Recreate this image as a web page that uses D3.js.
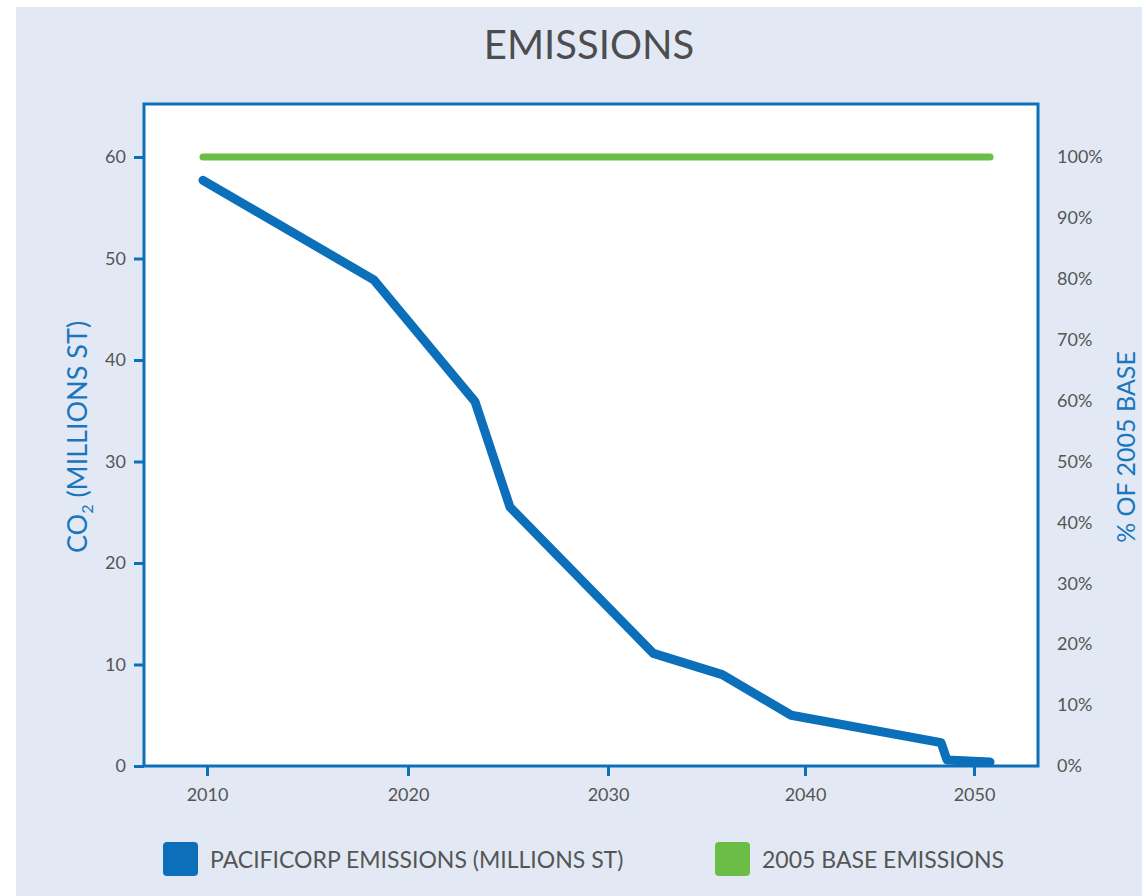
<!DOCTYPE html>
<html><head><meta charset="utf-8">
<script src="https://cdn.jsdelivr.net/npm/d3@7"></script>
<style>
html,body{margin:0;padding:0;background:#fff;}
svg{display:block;}
text{font-family:Lato,"Open Sans",sans-serif;}
</style></head>
<body><svg id="c" width="1142" height="896"></svg>
<script>
// ---- data ----
const title = "EMISSIONS";
const xTickYears = [2010, 2020, 2030, 2040, 2050];
const yTicks = [0, 10, 20, 30, 40, 50, 60];
const pctTicks = [0, 10, 20, 30, 40, 50, 60, 70, 80, 90, 100];
const emissionYears  = [2009.8, 2018.3, 2023.35, 2025.1, 2032.3, 2035.8, 2039.3, 2048.05, 2048.4, 2050.95];
const emissionValues = [57.7, 47.9, 35.9, 25.5, 11.1, 9.0, 5.0, 2.3, 0.6, 0.4];
const baseYears  = [2009.8, 2050.95];
const baseValues = [60, 60];
const baseValue = 60;
const seriesNames = ["PACIFICORP EMISSIONS (MILLIONS ST)", "2005 BASE EMISSIONS"];
const leftTitle = ["CO", "2", " (MILLIONS ST)"];
const rightTitle = "% OF 2005 BASE";

// ---- layout ----
const W = 1142, H = 896;
const blue = "#0c6fba", green = "#6bbd45", grey = "#555555", titleBlue = "#1a76bd";
const frame = {left: 144, right: 1038, top: 104, bottom: 766};
const svg = d3.select("#c");

svg.append("rect").attr("x", 16).attr("y", 7).attr("width", W - 16).attr("height", H - 7).attr("fill", "#e3e9f4");

// x scale: the printed tick spacing is uneven, so map ticks piecewise
const x = d3.scaleLinear().domain(xTickYears).range([207, 408, 608, 805, 974]);
const y = d3.scaleLinear().domain([0, 60]).range([frame.bottom, 157]);
const yPct = d3.scaleLinear().domain([0, 100]).range([y(0), y(baseValue)]);

svg.append("rect").attr("x", frame.left).attr("y", frame.top)
  .attr("width", frame.right - frame.left).attr("height", frame.bottom - frame.top)
  .attr("fill", "#fff");

// title
svg.append("text").attr("x", 589).attr("y", 59).attr("text-anchor", "middle")
  .attr("font-size", 40).attr("fill", "#4d4d4f").text(title);

// left axis
const gl = svg.append("g").attr("transform", `translate(${frame.left},0)`)
  .call(d3.axisLeft(y).tickValues(yTicks).tickSize(10).tickPadding(8).tickFormat(d3.format("d")));
gl.select(".domain").remove();
gl.selectAll(".tick line").attr("stroke", blue).attr("stroke-width", 3);
gl.selectAll(".tick text").attr("fill", grey).attr("font-size", 18).attr("font-family", "Lato");

// bottom axis
const gb = svg.append("g").attr("transform", `translate(0,${frame.bottom})`)
  .call(d3.axisBottom(x).tickValues(xTickYears).tickSize(10).tickPadding(12).tickFormat(d3.format("d")));
gb.select(".domain").remove();
gb.selectAll(".tick line").attr("stroke", blue).attr("stroke-width", 3);
gb.selectAll(".tick text").attr("fill", grey).attr("font-size", 18).attr("font-family", "Lato");

// right axis (labels only)
const gr = svg.append("g").attr("transform", `translate(${frame.right},0)`)
  .call(d3.axisRight(yPct).tickValues(pctTicks).tickSize(0).tickPadding(19).tickFormat(d => d + "%"));
gr.select(".domain").remove();
gr.selectAll(".tick text").attr("fill", grey).attr("font-size", 18).attr("font-family", "Lato");

// frame
svg.append("rect").attr("x", frame.left).attr("y", frame.top)
  .attr("width", frame.right - frame.left).attr("height", frame.bottom - frame.top)
  .attr("fill", "none").attr("stroke", blue).attr("stroke-width", 3);

// lines
const line = d3.line().x(d => x(d[0])).y(d => y(d[1]));
svg.append("path").datum(d3.zip(baseYears, baseValues)).attr("d", line)
  .attr("fill", "none").attr("stroke", green).attr("stroke-width", 7).attr("stroke-linecap", "round");
svg.append("path").datum(d3.zip(emissionYears, emissionValues)).attr("d", line)
  .attr("fill", "none").attr("stroke", blue).attr("stroke-width", 9)
  .attr("stroke-linecap", "round").attr("stroke-linejoin", "round");

// axis titles
const lt = svg.append("text").attr("transform", "translate(87,437) rotate(-90)")
  .attr("text-anchor", "middle").attr("font-size", 27).attr("fill", titleBlue);
lt.append("tspan").text(leftTitle[0]);
lt.append("tspan").attr("font-size", 16).attr("dy", 6).text(leftTitle[1]);
lt.append("tspan").attr("dy", -6).text(leftTitle[2]);

svg.append("text").attr("transform", "translate(1135,447) rotate(-90)")
  .attr("text-anchor", "middle").attr("font-size", 25).attr("fill", titleBlue).text(rightTitle);

// legend
const legendX = [163, 715], legendColors = [blue, green];
seriesNames.forEach((name, i) => {
  svg.append("rect").attr("x", legendX[i]).attr("y", 842).attr("width", 35).attr("height", 34)
    .attr("rx", 4).attr("fill", legendColors[i]);
  svg.append("text").attr("x", legendX[i] + 47).attr("y", 868).attr("font-size", 23)
    .attr("fill", grey).text(name);
});
</script></body></html>
